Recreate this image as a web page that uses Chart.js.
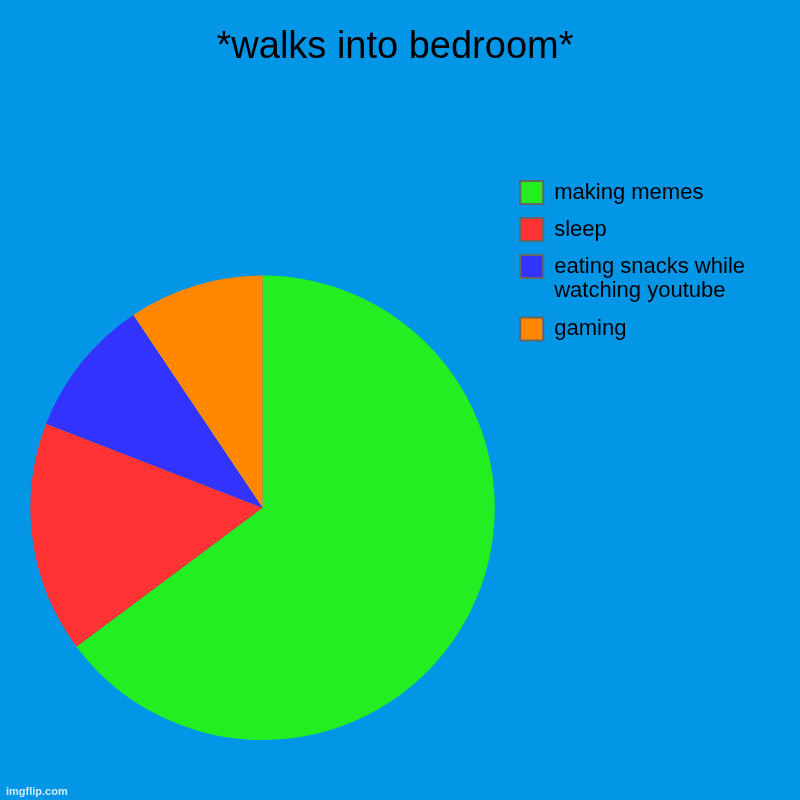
<!DOCTYPE html>
<html>
<head>
<meta charset="utf-8">
<script src="https://cdn.jsdelivr.net/npm/chart.js@4"></script>
<style>
  html, body { margin: 0; padding: 0; background: #0396e6; }
  #wrap { position: relative; width: 800px; height: 800px; }
  #mark {
    position: absolute; left: 6px; bottom: 3px;
    font: bold 11px "Liberation Sans", Arial, sans-serif;
    color: rgba(255, 255, 255, 0.8);
  }
</style>
</head>
<body>
<div id="wrap">
  <canvas id="canvas" width="800" height="800"></canvas>
  <div id="mark">imgflip.com</div>
</div>
<script>
const titleText = "*walks into bedroom*";
const categories = ["making memes", "sleep", ["eating snacks while", "watching youtube"], "gaming"];
const shares = [64.8, 16.1, 9.7, 9.4];
const sliceColors = ["#22ee22", "#ff3333", "#3333ff", "#ff8800"];

const font = "'Liberation Sans', Arial, sans-serif";

// legend keeps some empty room on its right, like the original layout
const wideLegend = {
  id: "wideLegend",
  beforeInit(chart) {
    const legend = chart.legend;
    if (!legend) return;
    const fit = legend.fit;
    legend.fit = function () {
      fit.call(this);
      this.width += 16;
    };
  }
};

const config = {
  type: "pie",
  data: {
    labels: categories,
    datasets: [
      {
        data: shares,
        backgroundColor: sliceColors,
        borderWidth: 0,
        hoverOffset: 0
      }
    ]
  },
  options: {
    responsive: false,
    maintainAspectRatio: false,
    animation: false,
    events: [],
    layout: {
      padding: { left: 19, right: 29, top: 0, bottom: 60 }
    },
    plugins: {
      tooltip: { enabled: false },
      title: {
        display: true,
        text: titleText,
        color: "#000",
        font: { family: font, size: 38, weight: "normal", lineHeight: 1.2 },
        padding: { top: 25, bottom: 205 }
      },
      legend: {
        position: "right",
        align: "start",
        title: {
          display: true,
          text: "",
          font: { size: 10, lineHeight: 1.2 },
          padding: { top: 155, bottom: 0 }
        },
        labels: {
          color: "#000",
          font: { family: font, size: 22, lineHeight: 1.1 },
          boxWidth: 23,
          boxHeight: 23,
          padding: 14,
          generateLabels: function (chart) {
            const items = Chart.overrides.pie.plugins.legend.labels.generateLabels(chart);
            items.forEach(function (item) {
              item.strokeStyle = "#666666";
              item.lineWidth = 2;
            });
            return items;
          }
        }
      }
    }
  },
  plugins: [wideLegend]
};

new Chart(document.getElementById("canvas"), config);
</script>
</body>
</html>
